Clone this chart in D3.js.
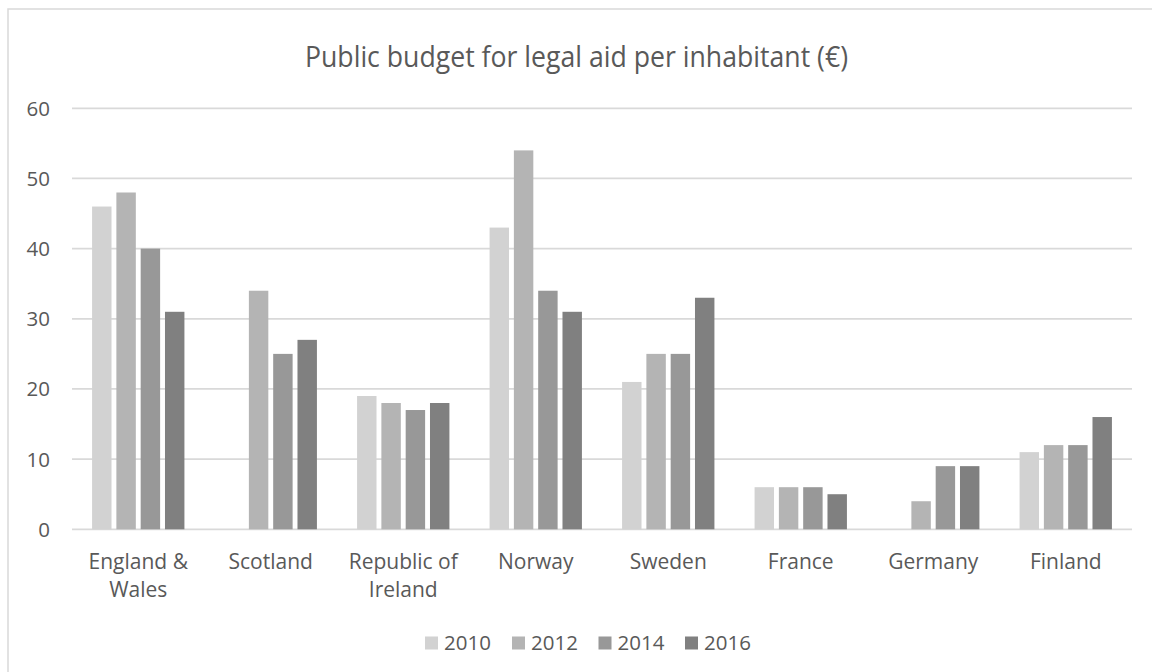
<!DOCTYPE html>
<html>
<head>
<meta charset="utf-8">
<script src="https://cdn.jsdelivr.net/npm/d3@7"></script>
<style>
  html, body { margin: 0; padding: 0; background: #fff; }
  svg { display: block; }
  text { font-family: "Open Sans", "Noto Sans", sans-serif; fill: #595959; }
</style>
</head>
<body>
<svg id="chart" width="1152" height="672"></svg>
<script>
const categories = [["England &", "Wales"], ["Scotland"], ["Republic of", "Ireland"], ["Norway"], ["Sweden"], ["France"], ["Germany"], ["Finland"]];
const years = ["2010", "2012", "2014", "2016"];
const values2010 = [46, null, 19, 43, 21, 6, null, 11];
const values2012 = [48, 34, 18, 54, 25, 6, 4, 12];
const values2014 = [40, 25, 17, 34, 25, 6, 9, 12];
const values2016 = [31, 27, 18, 31, 33, 5, 9, 16];
const yTicks = [0, 10, 20, 30, 40, 50, 60];
const colors = ["#d2d2d2", "#b4b4b4", "#989898", "#808080"];
const title = "Public budget for legal aid per inhabitant (€)";

const series = [values2010, values2012, values2014, values2016];
const svg = d3.select("#chart");

// outer frame
svg.append("rect").attr("x", 8).attr("y", 9).attr("width", 1200).attr("height", 700)
  .attr("fill", "none").attr("stroke", "#d9d9d9").attr("stroke-width", 1.5);

const plotLeft = 72, plotRight = 1132, plotTop = 108.3, plotBottom = 529.3;
const catIdx = categories.map((c, i) => i);
const x0 = d3.scaleBand().domain(catIdx).range([plotLeft, plotRight]).paddingInner(0).paddingOuter(0);
const x1 = d3.scaleBand().domain(years).range([0, x0.bandwidth()]).paddingInner(0.2).paddingOuter(0.826);
const y = d3.scaleLinear().domain([0, 60]).range([plotBottom, plotTop]);

// gridlines
svg.append("g").selectAll("line").data(yTicks).join("line")
  .attr("x1", plotLeft).attr("x2", plotRight)
  .attr("y1", d => y(d)).attr("y2", d => y(d))
  .attr("stroke", "#d9d9d9").attr("stroke-width", 1.8);

// y tick labels
svg.append("g").selectAll("text").data(yTicks).join("text")
  .attr("x", 50).attr("y", d => y(d)).attr("dy", "0.36em")
  .attr("text-anchor", "end").style("font-size", "20.5px").text(d => d);

// bars
const g = svg.append("g");
series.forEach((vals, si) => {
  g.append("g").selectAll("rect").data(vals.map((v, i) => ({v, i})).filter(d => d.v !== null)).join("rect")
    .attr("x", d => x0(d.i) + x1(years[si]))
    .attr("width", x1.bandwidth())
    .attr("y", d => y(d.v))
    .attr("height", d => y(0) - y(d.v))
    .attr("fill", colors[si]);
});

// x labels
const xl = svg.append("g").selectAll("text").data(catIdx).join("text")
  .attr("x", d => x0(d) + x0.bandwidth() / 2)
  .attr("y", 568.5).attr("text-anchor", "middle").style("font-size", "21px");
xl.each(function(d) {
  const t = d3.select(this);
  categories[d].forEach((line, li) => {
    t.append("tspan").attr("x", x0(d) + x0.bandwidth() / 2).attr("dy", li === 0 ? 0 : 28.3).text(line);
  });
});

// title
svg.append("text").attr("x", 576.5).attr("y", 67).attr("text-anchor", "middle")
  .attr("textLength", 543).attr("lengthAdjust", "spacingAndGlyphs")
  .style("font-size", "30px").text(title);

// legend
const legX = [425, 512, 598.5, 685];
const leg = svg.append("g").selectAll("g").data(years).join("g")
  .attr("transform", (d, i) => `translate(${legX[i]},636.5)`);
leg.append("rect").attr("width", 13).attr("height", 13).attr("fill", (d, i) => colors[i]);
leg.append("text").attr("x", 19).attr("y", 13).style("font-size", "20.5px").text(d => d);
</script>
</body>
</html>
